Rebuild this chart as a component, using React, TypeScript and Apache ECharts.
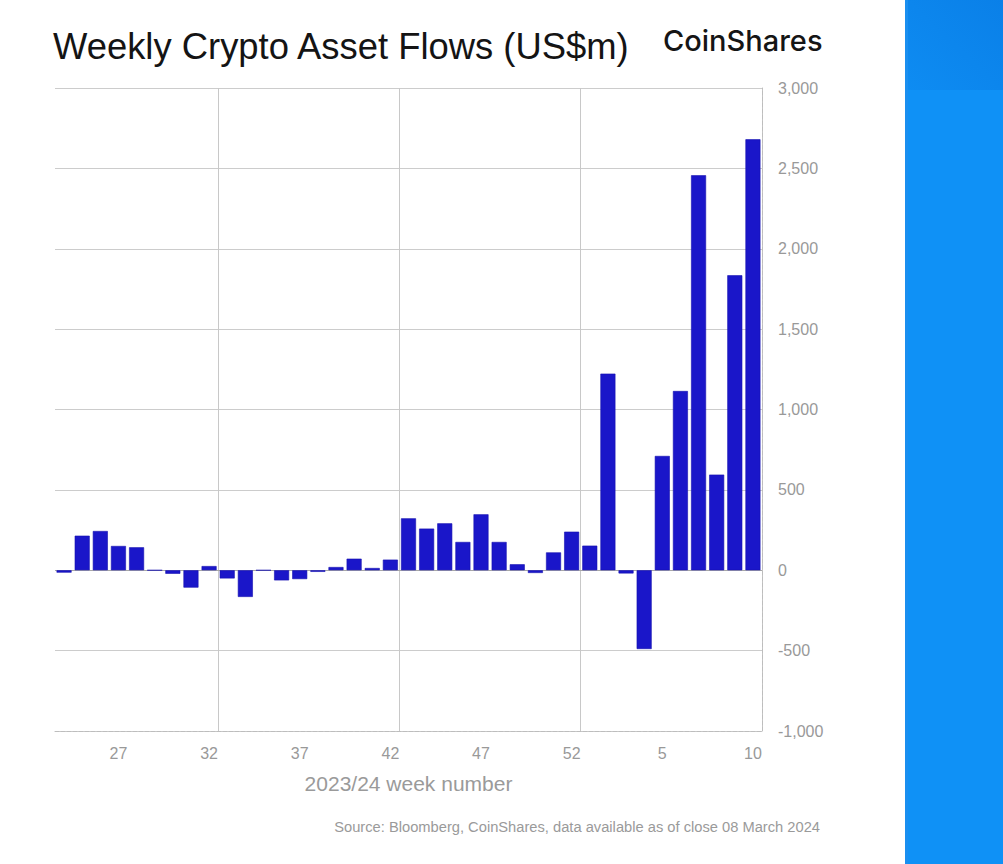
import React, { useEffect, useRef } from "react";
import * as echarts from "echarts";

const weeks: string[] = [
  "24", "25", "26", "27", "28", "29", "30", "31", "32", "33",
  "34", "35", "36", "37", "38", "39", "40", "41", "42", "43",
  "44", "45", "46", "47", "48", "49", "50", "51", "52", "1",
  "2", "3", "4", "5", "6", "7", "8", "9", "10",
];

const flows: number[] = [
  -15, 215, 244, 151, 143, 0, -22, -108, 26, -51,
  -166, 0, -63, -55, -10, 20, 72, 14, 66, 323,
  259, 292, 176, 348, 176, 37, -17, 111, 240, 153,
  1223, -20, -490, 711, 1115, 2457, 595, 1835, 2681,
];

const yMin = -1000;
const yMax = 3000;
const yStep = 500;

const titleText = "Weekly Crypto Asset Flows (US$m)";
const brandText = "CoinShares";
const axisNameText = "2023/24 week number";
const sourceText = "Source: Bloomberg, CoinShares, data available as of close 08 March 2024";

export default function App() {
  const ref = useRef<HTMLDivElement>(null);

  useEffect(() => {
    if (!ref.current) return;
    const chart = echarts.init(ref.current, null, { renderer: "svg" });
    const font = "'Liberation Sans', Arial, Helvetica, sans-serif";
    chart.setOption({
      animation: false,
      backgroundColor: "#ffffff",
      textStyle: { fontFamily: font },
      grid: { left: 55, right: 241, top: 88, bottom: 133, containLabel: false },
      xAxis: {
        type: "category",
        data: weeks,
        boundaryGap: true,
        axisLine: { show: true, onZero: false, lineStyle: { color: "#bdbdbd", type: "dashed", width: 1 } },
        axisTick: { show: false },
        axisLabel: {
          interval: (i: number) => (i - 3) % 5 === 0 && i >= 3,
          color: "#999999",
          fontSize: 16,
          margin: 14,
          fontFamily: font,
        },
        splitLine: {
          show: true,
          interval: (i: number) => i % 10 === 9,
          lineStyle: { color: "#c8c8c8", width: 1 },
        },
        name: axisNameText,
        nameLocation: "middle",
        nameGap: 42,
        nameTextStyle: { color: "#9a9a9a", fontSize: 21, fontFamily: font },
      },
      yAxis: {
        type: "value",
        position: "right",
        min: yMin,
        max: yMax,
        interval: yStep,
        axisLine: { show: true, lineStyle: { color: "#bdbdbd", type: "dashed", width: 1 } },
        axisTick: { show: false },
        axisLabel: {
          color: "#999999",
          fontSize: 16,
          margin: 16,
          fontFamily: font,
          formatter: (v: number) => v.toLocaleString("en-US"),
        },
        splitLine: { show: true, lineStyle: { color: "#cccccc", width: 1 } },
      },
      series: [
        {
          type: "bar",
          data: flows,
          barWidth: 15,
          itemStyle: { color: "#1a16c9", borderColor: "#1510b0", borderWidth: 0.6 },
          markLine: {
            silent: true,
            symbol: "none",
            label: { show: false },
            lineStyle: { color: "#a8a8a8", type: "solid", width: 1.2 },
            data: [{ yAxis: 0 }],
            z: 1,
          },
        },
      ],
      graphic: [
        {
          type: "rect",
          shape: { x: 905, y: 0, width: 98, height: 864 },
          style: { fill: "#0f91f6" },
          silent: true,
        },
        {
          type: "rect",
          shape: { x: 905, y: 0, width: 98, height: 90 },
          style: {
            fill: new echarts.graphic.LinearGradient(0, 1, 1, 0, [
              { offset: 0, color: "#0e8cf2" },
              { offset: 1, color: "#0a80e8" },
            ]),
          },
          silent: true,
        },
        {
          type: "rect",
          shape: { x: 905, y: 0, width: 3, height: 864 },
          style: { fill: "#1a8ff0" },
          silent: true,
        },
        {
          type: "text",
          left: 53,
          top: 28,
          style: { text: titleText, fill: "#141414", fontSize: 36.4, fontFamily: font },
        },
        {
          type: "text",
          left: 663,
          top: 26,
          style: { text: brandText, fill: "#151515", fontSize: 29, fontWeight: 500, fontFamily: "Inter, sans-serif" },
        },
        {
          type: "text",
          right: 183,
          top: 819,
          style: { text: sourceText, fill: "#9a9a9a", fontSize: 14.7, fontFamily: font },
        },
      ],
    });
    return () => chart.dispose();
  }, []);

  return (
    <div
      ref={ref}
      style={{ position: "fixed", left: 0, top: 0, width: 1003, height: 864 }}
    />
  );
}
